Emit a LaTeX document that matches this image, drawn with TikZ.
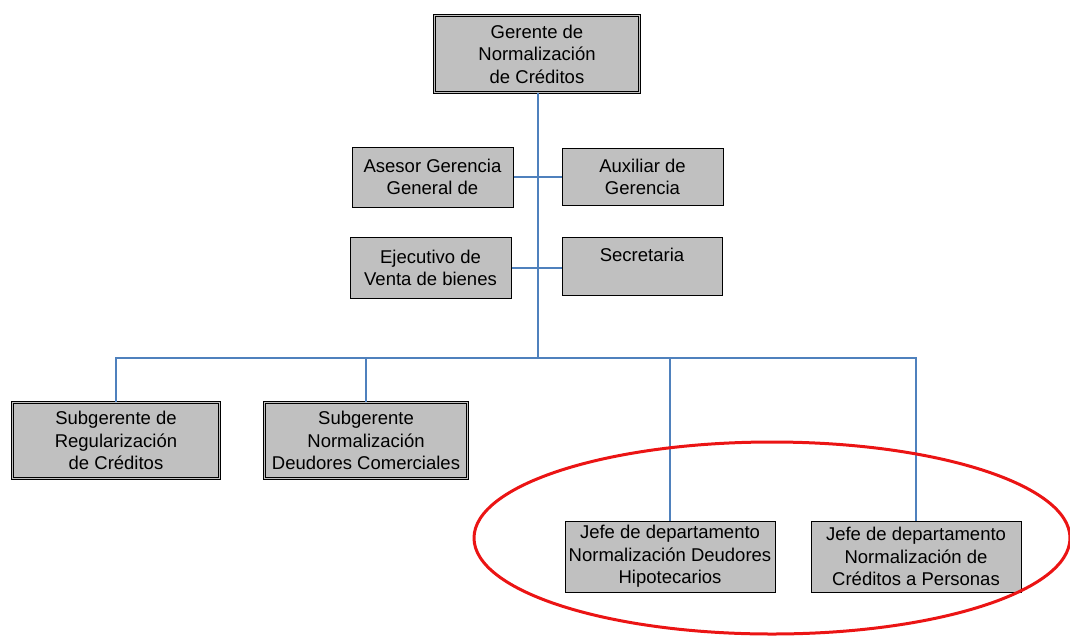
\documentclass[tikz,border=0pt]{standalone}
\usepackage{fontspec}
\setmainfont{Liberation Sans}
\definecolor{boxgray}{RGB}{192,192,192}
\definecolor{linkblue}{RGB}{79,129,189}
\definecolor{markred}{RGB}{235,20,20}
\tikzset{
  unit/.style={draw=black, line width=1pt, fill=boxgray, inner sep=0pt,
    align=center, font=\fontsize{18.5}{22.5}\selectfont},
  mainunit/.style={unit, double=boxgray, double distance=1.6pt, line width=0.9pt},
  link/.style={draw=linkblue, line width=2pt},
  droplink/.style={draw=linkblue, line width=1.4pt},
}
\begin{document}
\begin{tikzpicture}[x=1pt,y=-1pt]
  \useasboundingbox (0,0) rectangle (1070,635);
  \begin{scope}
    \clip (0,0) rectangle (1070,635);

    % head of the unit
    \node[mainunit, minimum width=205, minimum height=77] (ger) at (537,54)
      {Gerente de\\Normalización\\de Créditos};

    % staff positions
    \node[unit, minimum width=161, minimum height=60] (ase) at (432.5,177)
      {Asesor Gerencia\\General de};
    \node[unit, minimum width=161, minimum height=57] (aux) at (642.5,177)
      {Auxiliar de\\Gerencia};
    \node[unit, minimum width=161, minimum height=61] (eje) at (430.5,268)
      {Ejecutivo de\\Venta de bienes};
    \node[unit, minimum width=160, minimum height=58] (sec) at (642,266.5)
      {Secretaria\\\mbox{}};

    % line units
    \node[mainunit, minimum width=207, minimum height=76] (subA) at (116,440.5)
      {Subgerente de\\Regularización\\de Créditos};
    \node[mainunit, minimum width=203, minimum height=76] (subB) at (366,440.5)
      {Subgerente\\Normalización\\Deudores Comerciales};
    \node[unit, minimum width=210, minimum height=71] (jefA) at (670,556.5)
      {Jefe de departamento\\Normalización Deudores\\Hipotecarios};
    \node[unit, minimum width=210, minimum height=71] (jefB) at (916,556.5)
      {Jefe de departamento\\Normalización de\\Créditos a Personas};

    % reporting lines
    \coordinate (bus) at (538,358);
    \draw[link] (ger.south -| bus) -- (bus);
    \draw[link] (ase.east) -- (aux.west |- ase.east);
    \draw[link] (eje.east) -- (sec.west |- eje.east);
    \draw[droplink] (subA.north) -- (subA.north |- bus) -- (jefB.north |- bus) -- (jefB.north);
    \draw[droplink] (subB.north) -- (subB.north |- bus);
    \draw[droplink] (jefA.north) -- (jefA.north |- bus);

    % highlight around the two departments
    \draw[markred, line width=3pt] (772,538) ellipse [x radius=298, y radius=96];
  \end{scope}
\end{tikzpicture}
\end{document}
